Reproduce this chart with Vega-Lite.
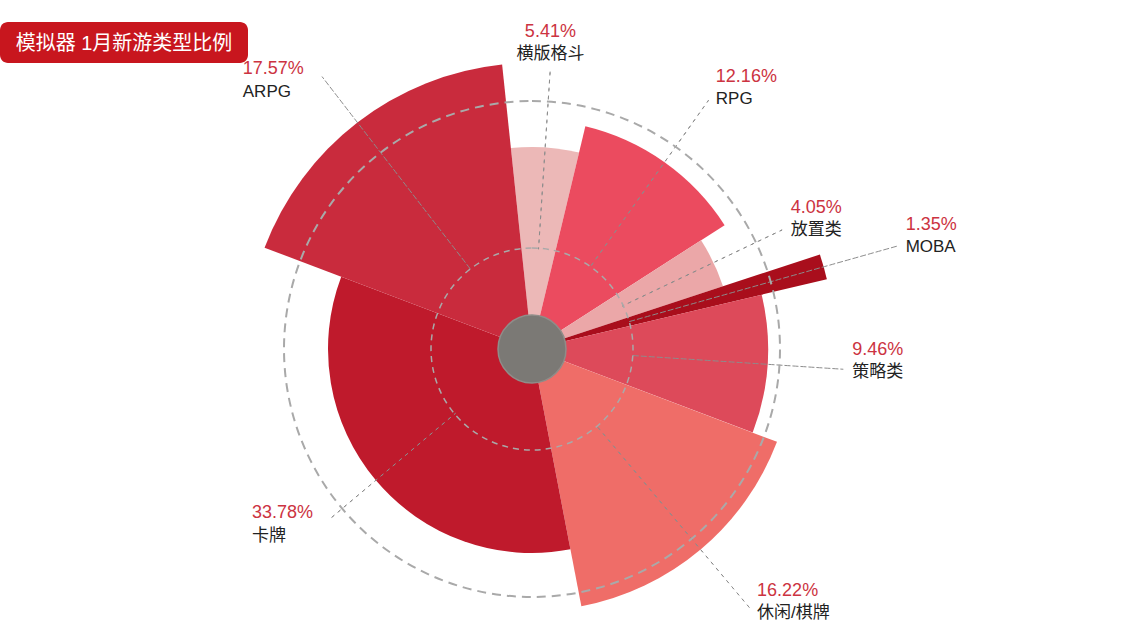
{
  "$schema": "https://vega.github.io/schema/vega-lite/v6.json",
  "padding": {"left": 0, "top": 22, "right": 0, "bottom": 0},
  "spacing": 0,
  "bounds": "flush",
  "background": "white",
  "config": {
    "view": {"stroke": null},
    "font": "'Liberation Sans', 'Noto Sans CJK SC', sans-serif"
  },
  "datasets": {
    "types": [
      {"序号": 1, "类型": "横版格斗", "占比": 0.0541, "半径": 202},
      {"序号": 2, "类型": "RPG", "占比": 0.1216, "半径": 229},
      {"序号": 3, "类型": "放置类", "占比": 0.0405, "半径": 201},
      {"序号": 4, "类型": "MOBA", "占比": 0.0135, "半径": 303},
      {"序号": 5, "类型": "策略类", "占比": 0.0946, "半径": 236},
      {"序号": 6, "类型": "休闲/棋牌", "占比": 0.1622, "半径": 262},
      {"序号": 7, "类型": "卡牌", "占比": 0.3378, "半径": 204},
      {"序号": 8, "类型": "ARPG", "占比": 0.1757, "半径": 286}
    ]
  },
  "vconcat": [
    {
      "width": 248,
      "height": 41,
      "view": {"fill": "#c8161e", "stroke": null, "cornerRadius": 8},
      "data": {"values": [{"标题": "模拟器 1月新游类型比例"}]},
      "mark": {"type": "text", "color": "white", "fontSize": 20, "dy": 1},
      "encoding": {"text": {"field": "标题"}}
    },
    {
      "width": 1064,
      "height": 572,
      "data": {"name": "types"},
      "transform": [
        {"stack": "占比", "groupby": [], "sort": [{"field": "序号", "order": "ascending"}], "as": ["起", "止"]},
        {"fold": ["起", "止"], "as": ["端", "角"]},
        {"aggregate": [{"op": "mean", "field": "角", "as": "中"}], "groupby": ["序号", "类型", "占比", "半径", "起", "止"]}
      ],
      "layer": [
        {
          "mark": {"type": "arc"},
          "encoding": {
            "theta": {"field": "起", "type": "quantitative", "stack": null, "scale": {"domain": [0, 1], "range": [-0.1047, 6.1785]}},
            "theta2": {"field": "止"},
            "radius": {"field": "半径", "type": "quantitative", "scale": {"type": "linear", "zero": true, "domain": [0, 300], "range": [0, 300]}},
            "color": {
              "field": "类型",
              "type": "nominal",
              "legend": null,
              "scale": {
                "domain": ["横版格斗", "RPG", "放置类", "MOBA", "策略类", "休闲/棋牌", "卡牌", "ARPG"],
                "range": ["#ecb8b7", "#eb4b5f", "#eba7a8", "#a90e1c", "#dd4a5a", "#ef6d68", "#bf1a2c", "#c92b3d"]
              }
            }
          }
        },
        {
          "transform": [{"filter": "indexof(['卡牌','ARPG'], datum['类型']) < 0"}],
          "mark": {"type": "arc", "filled": false, "stroke": "#8c8c8c", "strokeWidth": 1, "strokeDash": [3, 5], "radiusOffset": 76},
          "encoding": {
            "theta": {"field": "中", "type": "quantitative", "stack": null},
            "theta2": {"field": "中"},
            "radius": {"field": "半径", "type": "quantitative"},
            "radius2": {"datum": 100}
          }
        },
        {
          "transform": [{"filter": "indexof(['卡牌','ARPG'], datum['类型']) >= 0"}],
          "mark": {"type": "arc", "filled": false, "stroke": "#8c8c8c", "strokeWidth": 1, "strokeDash": [3, 5], "radiusOffset": 58},
          "encoding": {
            "theta": {"field": "中", "type": "quantitative", "stack": null},
            "theta2": {"field": "中"},
            "radius": {"field": "半径", "type": "quantitative"},
            "radius2": {"datum": 100}
          }
        },
        {
          "data": {"values": [{}]},
          "mark": {"type": "arc", "theta": 0, "theta2": 6.2832, "filled": false, "stroke": "#a9a9a9", "strokeWidth": 1.5, "strokeDash": [6, 5]},
          "encoding": {"radius": {"datum": 101}}
        },
        {
          "data": {"values": [{}]},
          "mark": {"type": "arc", "theta": 0, "theta2": 6.2832, "filled": false, "stroke": "#a9a9a9", "strokeWidth": 2, "strokeDash": [9, 6]},
          "encoding": {"radius": {"datum": 248}}
        },
        {
          "data": {"values": [{}]},
          "mark": {"type": "arc", "theta": 0, "theta2": 6.2832, "fill": "#7b7975", "stroke": "#8f8d89", "strokeWidth": 1.5},
          "encoding": {"radius": {"datum": 34}}
        },
        {
          "transform": [{"filter": "indexof(['横版格斗','卡牌','ARPG'], datum['类型']) < 0"}],
          "mark": {"type": "text", "fontSize": 18, "color": "#cc3341", "align": "left", "baseline": "middle", "dx": 5, "dy": -20, "radiusOffset": 80},
          "encoding": {
            "theta": {"field": "中", "type": "quantitative", "stack": null},
            "radius": {"field": "半径", "type": "quantitative"},
            "text": {"field": "占比", "type": "quantitative", "format": ".2%"}
          }
        },
        {
          "transform": [{"filter": "indexof(['横版格斗','卡牌','ARPG'], datum['类型']) < 0"}],
          "mark": {"type": "text", "fontSize": 17, "color": "#222222", "align": "left", "baseline": "middle", "dx": 5, "dy": 2, "radiusOffset": 80},
          "encoding": {
            "theta": {"field": "中", "type": "quantitative", "stack": null},
            "radius": {"field": "半径", "type": "quantitative"},
            "text": {"field": "类型", "type": "nominal"}
          }
        },
        {
          "transform": [{"filter": "indexof(['卡牌','ARPG'], datum['类型']) >= 0"}],
          "mark": {"type": "text", "fontSize": 18, "color": "#cc3341", "align": "left", "baseline": "middle", "dx": -78, "dy": -6, "radiusOffset": 60},
          "encoding": {
            "theta": {"field": "中", "type": "quantitative", "stack": null},
            "radius": {"field": "半径", "type": "quantitative"},
            "text": {"field": "占比", "type": "quantitative", "format": ".2%"}
          }
        },
        {
          "transform": [{"filter": "indexof(['卡牌','ARPG'], datum['类型']) >= 0"}],
          "mark": {"type": "text", "fontSize": 17, "color": "#222222", "align": "left", "baseline": "middle", "dx": -78, "dy": 17, "radiusOffset": 60},
          "encoding": {
            "theta": {"field": "中", "type": "quantitative", "stack": null},
            "radius": {"field": "半径", "type": "quantitative"},
            "text": {"field": "类型", "type": "nominal"}
          }
        },
        {
          "transform": [{"filter": "datum['类型'] == '横版格斗'"}],
          "mark": {"type": "text", "fontSize": 18, "color": "#cc3341", "align": "center", "baseline": "middle", "dy": -36, "radiusOffset": 80},
          "encoding": {
            "theta": {"field": "中", "type": "quantitative", "stack": null},
            "radius": {"field": "半径", "type": "quantitative"},
            "text": {"field": "占比", "type": "quantitative", "format": ".2%"}
          }
        },
        {
          "transform": [{"filter": "datum['类型'] == '横版格斗'"}],
          "mark": {"type": "text", "fontSize": 17, "color": "#222222", "align": "center", "baseline": "middle", "dy": -14, "radiusOffset": 80},
          "encoding": {
            "theta": {"field": "中", "type": "quantitative", "stack": null},
            "radius": {"field": "半径", "type": "quantitative"},
            "text": {"field": "类型", "type": "nominal"}
          }
        }
      ]
    }
  ]
}
